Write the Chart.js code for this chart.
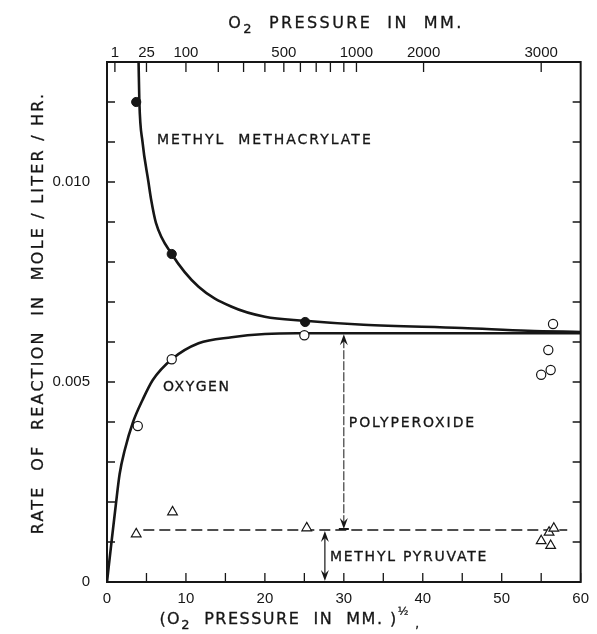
<!DOCTYPE html>
<html>
<head>
<meta charset="utf-8">
<script src="https://cdn.jsdelivr.net/npm/chart.js@4.4.1/dist/chart.umd.min.js"></script>
<style>
  body { margin: 0; background: #fff; }
</style>
</head>
<body>
<canvas id="myChart" width="597" height="634"></canvas>
<script>
// values (x = square root of O2 pressure in mm)
const mmaX = [3.7, 8.2, 25.1];
const mmaY = [0.0120, 0.0082, 0.0065];

const oxyX = [3.9, 8.2, 25.0, 55.0, 55.9, 56.2, 56.5];
const oxyY = [0.0039, 0.00557, 0.00617, 0.00518, 0.0058, 0.0053, 0.00645];

const pyrX = [3.7, 8.3, 25.3, 55.0, 56.0, 56.2, 56.6];
const pyrY = [0.0012, 0.00175, 0.00135, 0.00103, 0.00124, 0.00091, 0.00134];

// hand drawn curves
const mmaCurveX = [3.95, 4.0, 4.1, 4.5, 5.25, 5.6, 6.2, 8.2, 11.6, 15.8, 20, 25, 32.5, 45, 53.3, 60];
const mmaCurveY = [0.0135, 0.0130, 0.0120, 0.0110, 0.0100, 0.00955, 0.00898, 0.0082, 0.00738, 0.00688, 0.00663, 0.00653, 0.00643, 0.00635, 0.00628, 0.00625];

const oxyCurveX = [0, 0.6, 1.1, 1.6, 2.25, 3.3, 4.5, 5.8, 8.2, 11.6, 15.8, 20, 24, 35, 50, 60];
const oxyCurveY = [0, 0.00105, 0.0019, 0.0027, 0.0033, 0.0040, 0.00455, 0.00505, 0.00557, 0.00597, 0.00612, 0.0062, 0.00622, 0.00622, 0.00622, 0.00622];

const pyrLineX = [4.6, 58.3];
const pyrLineY = [0.0013, 0.0013];

// top axis: O2 pressure in mm, placed where the figure has its ticks
const topTickPos = [1, 5, 10, 14.1, 17.3, 20, 22.4, 24.5, 26.5, 28.3, 30, 31.6, 40.1, 55];
const topTickLabels = ['1', '25', '100', '', '', '', '500', '', '', '', '', '1000', '2000', '3000'];

// arrows: polyperoxide gap and methyl pyruvate height
const polyArrow = { x: 30, from: 0.00622, to: 0.0013 };
const pyrArrow = { x: 27.6, from: 0.0013, to: 0 };

const ink = '#161616';
const face = 'DejaVu Sans';

function pts(xs, ys) {
  return xs.map((x, i) => ({ x: x, y: ys[i] }));
}

// draws a row of text pieces (for subscripts / superscripts), pen-thickened
function runs(ctx, parts, x, y, gap, align) {
  ctx.textAlign = 'left';
  ctx.textBaseline = 'alphabetic';
  ctx.letterSpacing = gap + 'px';
  let w = 0;
  parts.forEach(p => {
    ctx.font = p.size + 'px "' + face + '"';
    p.w = ctx.measureText(p.t).width;
    w += p.w;
  });
  let cx = align === 'center' ? x - w / 2 : x;
  ctx.lineWidth = 0.3;
  parts.forEach(p => {
    ctx.font = p.size + 'px "' + face + '"';
    ctx.fillText(p.t, cx, y + (p.dy || 0));
    ctx.strokeText(p.t, cx, y + (p.dy || 0));
    cx += p.w;
  });
}

function label(ctx, text, x, y, size, gap, align) {
  runs(ctx, [{ t: text, size: size }], x, y, gap, align);
}

function arrowHead(ctx, x, y, dir) {
  ctx.beginPath();
  ctx.moveTo(x, y);
  ctx.lineTo(x - 4, y - dir * 11);
  ctx.lineTo(x, y - dir * 7);
  ctx.lineTo(x + 4, y - dir * 11);
  ctx.closePath();
  ctx.fill();
}

const paper = {
  id: 'paper',
  afterDatasetsDraw(chart) {
    const ctx = chart.ctx;
    const a = chart.chartArea;
    const sx = chart.scales.x, st = chart.scales.x2, sy = chart.scales.y;
    ctx.save();
    ctx.strokeStyle = ink;
    ctx.fillStyle = ink;

    // frame
    ctx.lineWidth = 2;
    ctx.strokeRect(a.left, a.top, a.right - a.left, a.bottom - a.top);

    // inward ticks
    ctx.lineWidth = 1.3;
    ctx.beginPath();
    sx.ticks.forEach(t => {
      const p = sx.getPixelForValue(t.value);
      ctx.moveTo(p, a.bottom); ctx.lineTo(p, a.bottom - 9);
    });
    st.ticks.forEach(t => {
      const p = st.getPixelForValue(t.value);
      ctx.moveTo(p, a.top); ctx.lineTo(p, a.top + 10);
    });
    sy.ticks.forEach(t => {
      const p = sy.getPixelForValue(t.value);
      ctx.moveTo(a.left, p); ctx.lineTo(a.left + 8, p);
      ctx.moveTo(a.right, p); ctx.lineTo(a.right - 8, p);
    });
    ctx.stroke();

    // polyperoxide arrow
    const px = sx.getPixelForValue(polyArrow.x);
    const p1 = sy.getPixelForValue(polyArrow.from), p2 = sy.getPixelForValue(polyArrow.to);
    ctx.lineWidth = 1;
    ctx.setLineDash([9, 2]);
    ctx.beginPath();
    ctx.moveTo(px, p1 + 6); ctx.lineTo(px, p2 - 6);
    ctx.stroke();
    ctx.setLineDash([]);
    arrowHead(ctx, px, p1 + 1, -1);
    arrowHead(ctx, px, p2 - 1, 1);
    ctx.lineWidth = 2;
    ctx.beginPath();
    ctx.moveTo(px - 5, p2 - 1); ctx.lineTo(px + 5, p2 - 1);
    ctx.stroke();

    // methyl pyruvate arrow
    const qx = sx.getPixelForValue(pyrArrow.x);
    const q1 = sy.getPixelForValue(pyrArrow.from), q2 = sy.getPixelForValue(pyrArrow.to);
    ctx.lineWidth = 1.2;
    ctx.beginPath();
    ctx.moveTo(qx, q1 + 6); ctx.lineTo(qx, q2 - 6);
    ctx.stroke();
    arrowHead(ctx, qx, q1 + 1, -1);
    arrowHead(ctx, qx, q2 - 1, 1);

    // curve and arrow labels
    label(ctx, 'METHYL  METHACRYLATE', 157, 144, 14, 2.0);
    label(ctx, 'OXYGEN', 163, 391, 14, 1.5);
    label(ctx, 'POLYPEROXIDE', px + 5, 427, 14, 1.9);
    label(ctx, 'METHYL PYRUVATE', qx + 5, 561, 14, 1.75);

    // axis titles
    runs(ctx, [
      { t: 'O', size: 16 },
      { t: '2', size: 13, dy: 5 },
      { t: '  PRESSURE  IN  MM.', size: 16 },
    ], 346, 28, 2.4, 'center');
    runs(ctx, [
      { t: '(O', size: 16 },
      { t: '2', size: 13, dy: 5 },
      { t: '  PRESSURE  IN  MM. )', size: 16 },
      { t: '\u00bd', size: 11, dy: -9 },
      { t: ' ,', size: 12, dy: 4 },
    ], 290, 624, 1.5, 'center');

    ctx.translate(43, 313);
    ctx.rotate(-Math.PI / 2);
    label(ctx, 'RATE  OF  REACTION  IN  MOLE / LITER / HR.', 0, 0, 16, 2.2, 'center');
    ctx.restore();
  }
};

const tickFont = { family: 'Liberation Sans', size: 15 };

new Chart(document.getElementById('myChart'), {
  type: 'scatter',
  data: {
    datasets: [
      {
        label: 'Methyl methacrylate',
        data: pts(mmaX, mmaY),
        pointStyle: 'circle', pointRadius: 4.6,
        backgroundColor: ink, borderColor: ink, borderWidth: 1,
        order: 1,
      },
      {
        label: 'Oxygen',
        data: pts(oxyX, oxyY),
        pointStyle: 'circle', pointRadius: 4.6,
        backgroundColor: '#fff', borderColor: ink, borderWidth: 1.2,
        order: 1,
      },
      {
        label: 'Methyl pyruvate',
        data: pts(pyrX, pyrY),
        pointStyle: 'triangle', pointRadius: 5.6,
        backgroundColor: '#fff', borderColor: ink, borderWidth: 1.2,
        order: 1,
      },
      {
        label: 'MMA curve',
        type: 'line',
        data: pts(mmaCurveX, mmaCurveY),
        borderColor: ink, borderWidth: 2.6, pointRadius: 0,
        cubicInterpolationMode: 'monotone', fill: false,
        order: 3,
      },
      {
        label: 'Oxygen curve',
        type: 'line',
        data: pts(oxyCurveX, oxyCurveY),
        borderColor: ink, borderWidth: 2.6, pointRadius: 0,
        cubicInterpolationMode: 'monotone', fill: false,
        order: 3,
      },
      {
        label: 'Pyruvate level',
        type: 'line',
        data: pts(pyrLineX, pyrLineY),
        borderColor: ink, borderWidth: 1.6, borderDash: [11, 5], pointRadius: 0,
        fill: false,
        order: 3,
      },
    ],
  },
  options: {
    responsive: false,
    animation: false,
    layout: { padding: { left: 0, right: 10, top: 0, bottom: 0 } },
    plugins: {
      legend: { display: false },
      tooltip: { enabled: false },
    },
    scales: {
      x: {
        type: 'linear', position: 'bottom', min: 0, max: 60,
        grid: { display: false, drawTicks: false },
        border: { display: false },
        ticks: {
          stepSize: 5, autoSkip: false, maxRotation: 0, padding: 8,
          color: ink, font: tickFont,
          callback: (v) => (v % 10 === 0 ? String(v) : ''),
        },
        afterFit: (s) => { s.height = 52; },
      },
      x2: {
        type: 'linear', position: 'top', min: 0, max: 60,
        grid: { display: false, drawTicks: false },
        border: { display: false },
        afterBuildTicks: (s) => { s.ticks = topTickPos.map(v => ({ value: v })); },
        ticks: {
          autoSkip: false, maxRotation: 0, padding: 0,
          color: ink, font: tickFont,
          callback: (v, i) => topTickLabels[i],
        },
        afterFit: (s) => { s.height = 62; },
      },
      y: {
        type: 'linear', min: 0, max: 0.013,
        grid: { display: false, drawTicks: false },
        border: { display: false },
        ticks: {
          stepSize: 0.001, autoSkip: false, padding: 17,
          color: ink, font: tickFont,
          callback: (v) => {
            const k = Math.round(v * 1000);
            if (k === 0) return '0';
            return k % 5 === 0 ? (k / 1000).toFixed(3) : '';
          },
        },
        afterFit: (s) => { s.width = 107; },
      },
    },
  },
  plugins: [paper],
});
</script>
</body>
</html>
